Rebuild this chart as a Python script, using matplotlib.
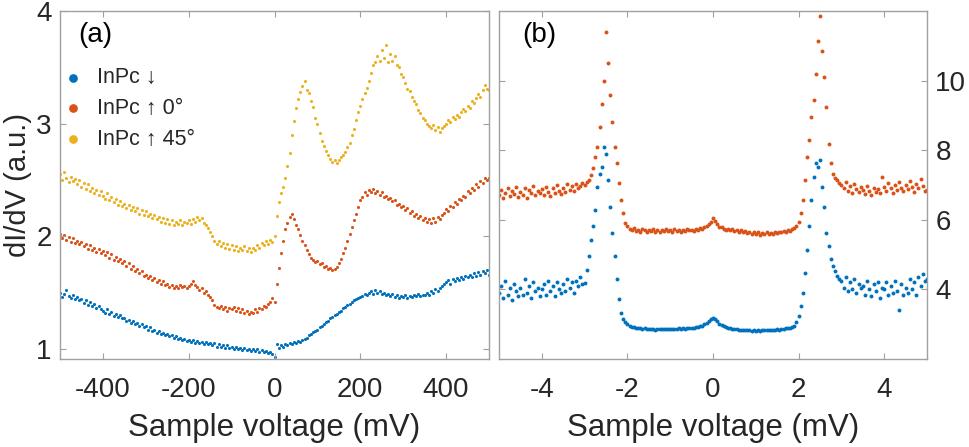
import numpy as np
import matplotlib
matplotlib.use('Agg')
import matplotlib.pyplot as plt

FONT = ['Liberation Sans', 'DejaVu Sans']
plt.rcParams['font.family'] = FONT
plt.rcParams['axes.unicode_minus'] = False

C_DOWN = '#0072BD'
C_UP0 = '#D95319'
C_UP45 = '#EDB120'
FRAME = '#a0a0a0'
TXT = '#262626'

# panel (a): bias -500..500 mV, 5 mV steps
yellow_a = [
    2.55, 2.50, 2.57, 2.52, 2.48, 2.53, 2.49, 2.51, 2.46, 2.50,
    2.44, 2.47, 2.42, 2.46, 2.40, 2.43, 2.38, 2.41, 2.37, 2.40,
    2.36, 2.33, 2.38, 2.32, 2.35, 2.30, 2.33, 2.28, 2.31, 2.27,
    2.29, 2.25, 2.28, 2.23, 2.26, 2.22, 2.25, 2.20, 2.23, 2.19,
    2.22, 2.18, 2.20, 2.16, 2.19, 2.15, 2.17, 2.13, 2.16, 2.12,
    2.15, 2.11, 2.14, 2.10, 2.13, 2.11, 2.14, 2.10, 2.13, 2.12,
    2.14, 2.11, 2.15, 2.13, 2.17, 2.14, 2.16, 2.12, 2.10, 2.07,
    2.04, 2.00, 1.96, 1.93, 1.96, 1.91, 1.94, 1.90, 1.93, 1.89,
    1.92, 1.88, 1.91, 1.87, 1.90, 1.88, 1.91, 1.87, 1.90, 1.86,
    1.90, 1.88, 1.92, 1.90, 1.94, 1.92, 1.96, 1.93, 1.97, 1.95,
    2.00, 2.18, 2.30, 2.38, 2.44, 2.52, 2.62, 2.74, 2.90, 3.02,
    3.14, 3.22, 3.28, 3.33, 3.38, 3.30, 3.27, 3.20, 3.15, 3.05,
    3.00, 2.92, 2.85, 2.80, 2.76, 2.72, 2.69, 2.66, 2.68, 2.65,
    2.68, 2.70, 2.72, 2.75, 2.79, 2.83, 2.90, 2.95, 3.03, 3.10,
    3.16, 3.22, 3.27, 3.32, 3.38, 3.45, 3.52, 3.55, 3.60, 3.56,
    3.65, 3.58, 3.70, 3.55, 3.62, 3.56, 3.60, 3.52, 3.50, 3.44,
    3.41, 3.36, 3.31, 3.29, 3.24, 3.20, 3.17, 3.12, 3.09, 3.05,
    3.03, 3.00, 2.98, 2.96, 2.99, 2.94, 2.97, 2.93, 2.96, 2.98,
    3.00, 3.03, 3.01, 3.06, 3.04, 3.08, 3.06, 3.10, 3.13, 3.11,
    3.16, 3.14, 3.20, 3.18, 3.23, 3.26, 3.24, 3.30, 3.34, 3.31,
    3.30,
]
orange_a = [
    2.02, 1.98, 2.01, 1.97, 1.99, 1.95, 1.98, 1.94, 1.96, 1.93,
    1.95, 1.91, 1.93, 1.89, 1.92, 1.88, 1.90, 1.86, 1.89, 1.85,
    1.87, 1.83, 1.86, 1.81, 1.84, 1.79, 1.82, 1.78, 1.80, 1.76,
    1.78, 1.74, 1.76, 1.71, 1.74, 1.69, 1.71, 1.67, 1.69, 1.65,
    1.66, 1.63, 1.65, 1.61, 1.63, 1.59, 1.61, 1.58, 1.60, 1.57,
    1.58, 1.55, 1.57, 1.54, 1.56, 1.54, 1.57, 1.55, 1.56, 1.54,
    1.56, 1.58, 1.60, 1.57, 1.55, 1.52, 1.54, 1.50, 1.51, 1.48,
    1.46, 1.43, 1.39, 1.37, 1.36, 1.38, 1.35, 1.37, 1.34, 1.36,
    1.35, 1.37, 1.34, 1.36, 1.33, 1.35, 1.32, 1.34, 1.31, 1.33,
    1.32, 1.35, 1.33, 1.36, 1.35, 1.38, 1.37, 1.40, 1.42, 1.45,
    1.42, 1.58, 1.72, 1.85, 1.96, 2.06, 2.12, 2.17, 2.20, 2.15,
    2.10, 2.06, 2.01, 1.96, 1.92, 1.88, 1.84, 1.81, 1.79, 1.77,
    1.78, 1.75, 1.76, 1.73, 1.74, 1.71, 1.72, 1.70, 1.71, 1.73,
    1.76, 1.80, 1.85, 1.90, 1.96, 2.02, 2.08, 2.14, 2.20, 2.26,
    2.32, 2.35, 2.39, 2.37, 2.41, 2.39, 2.42, 2.38, 2.40, 2.37,
    2.39, 2.35, 2.36, 2.33, 2.34, 2.31, 2.32, 2.28, 2.29, 2.26,
    2.27, 2.23, 2.25, 2.21, 2.22, 2.18, 2.20, 2.16, 2.18, 2.14,
    2.16, 2.13, 2.15, 2.12, 2.16, 2.13, 2.17, 2.15, 2.19, 2.21,
    2.24, 2.22, 2.27, 2.26, 2.30, 2.29, 2.33, 2.32, 2.36, 2.35,
    2.40, 2.38, 2.43, 2.41, 2.46, 2.44, 2.49, 2.47, 2.52, 2.50,
    2.52,
]
blue_a = [
    1.50, 1.46, 1.49, 1.52, 1.47, 1.45, 1.48, 1.44, 1.46, 1.43,
    1.44, 1.41, 1.43, 1.39, 1.42, 1.38, 1.40, 1.36, 1.38, 1.35,
    1.34, 1.32, 1.35, 1.31, 1.33, 1.29, 1.31, 1.28, 1.30, 1.27,
    1.27, 1.25, 1.26, 1.23, 1.25, 1.22, 1.23, 1.20, 1.22, 1.19,
    1.20, 1.17, 1.19, 1.16, 1.17, 1.14, 1.16, 1.13, 1.14, 1.12,
    1.13, 1.11, 1.12, 1.10, 1.11, 1.09, 1.10, 1.08, 1.09, 1.07,
    1.08, 1.06, 1.08, 1.05, 1.07, 1.05, 1.06, 1.04, 1.06, 1.04,
    1.05, 1.03, 1.05, 1.02, 1.04, 1.02, 1.03, 1.01, 1.03, 1.01,
    1.02, 1.00, 1.02, 1.00, 1.01, 0.99, 1.01, 0.99, 1.00, 0.98,
    1.00, 0.98, 1.00, 0.97, 0.99, 0.97, 0.98, 0.96, 0.97, 0.95,
    0.93, 1.04, 1.01, 1.03, 1.02, 1.04, 1.03, 1.05, 1.04, 1.06,
    1.05, 1.07, 1.06, 1.08, 1.09, 1.10, 1.12, 1.13, 1.15, 1.16,
    1.17, 1.19, 1.20, 1.22, 1.24, 1.25, 1.27, 1.28, 1.30, 1.31,
    1.33, 1.34, 1.36, 1.37, 1.39, 1.40, 1.42, 1.43, 1.44, 1.45,
    1.46, 1.47, 1.49, 1.48, 1.50, 1.51, 1.49, 1.52, 1.50, 1.51,
    1.49, 1.50, 1.48, 1.49, 1.47, 1.49, 1.46, 1.48, 1.45, 1.47,
    1.46, 1.48, 1.45, 1.47, 1.46, 1.48, 1.47, 1.49, 1.47, 1.48,
    1.48, 1.50, 1.48, 1.51, 1.50, 1.53, 1.51, 1.54, 1.56, 1.58,
    1.59, 1.61, 1.58, 1.62, 1.60, 1.63, 1.61, 1.64, 1.62, 1.65,
    1.64, 1.66, 1.64, 1.67, 1.65, 1.68, 1.66, 1.69, 1.67, 1.70,
    1.66,
]

# panel (b): bias -5..5 mV, 0.05 mV steps
orange_b = [
    6.70, 6.85, 6.62, 6.78, 6.90, 6.68, 6.82, 6.74, 6.95, 6.66,
    6.80, 6.72, 6.92, 6.64, 6.86, 6.76, 6.98, 6.70, 6.84, 6.78,
    6.88, 6.72, 6.94, 6.80, 6.68, 6.90, 6.76, 7.00, 6.82, 6.74,
    6.92, 6.80, 7.02, 6.86, 6.96, 6.84, 7.04, 6.90, 6.98, 7.06,
    7.00, 7.08, 7.14, 7.30, 7.50, 7.80, 8.10, 8.67, 9.33, 10.00,
    11.40, 10.50, 9.60, 8.80, 8.10, 7.62, 7.05, 6.57, 6.19, 5.90,
    5.81, 5.74, 5.70, 5.76, 5.68, 5.72, 5.66, 5.74, 5.70, 5.65,
    5.72, 5.68, 5.74, 5.66, 5.70, 5.64, 5.72, 5.68, 5.75, 5.67,
    5.70, 5.66, 5.73, 5.68, 5.71, 5.65, 5.72, 5.69, 5.74, 5.70,
    5.72, 5.68, 5.74, 5.71, 5.76, 5.74, 5.80, 5.82, 5.88, 5.94,
    6.05, 5.96, 5.88, 5.80, 5.78, 5.74, 5.72, 5.75, 5.70, 5.73,
    5.68, 5.72, 5.66, 5.70, 5.64, 5.68, 5.62, 5.66, 5.60, 5.64,
    5.58, 5.64, 5.56, 5.62, 5.60, 5.65, 5.58, 5.63, 5.60, 5.66,
    5.62, 5.66, 5.64, 5.68, 5.66, 5.70, 5.69, 5.73, 5.76, 5.81,
    5.95, 6.19, 6.57, 7.14, 7.80, 8.29, 8.95, 9.43, 10.20, 11.14,
    11.86, 10.86, 10.10, 9.24, 8.19, 7.62, 7.33, 7.20, 7.14, 7.05,
    7.00, 6.90, 7.08, 6.84, 6.96, 6.78, 7.02, 6.88, 6.80, 6.94,
    6.86, 6.74, 6.98, 6.82, 6.70, 6.92, 6.80, 6.88, 6.76, 7.24,
    6.95, 6.84, 7.06, 6.90, 6.78, 7.00, 6.86, 7.10, 6.92, 6.82,
    7.00, 6.88, 7.12, 6.94, 6.80, 7.04, 6.90, 7.16, 6.96, 6.84,
    6.86,
]
blue_b = [
    3.90, 4.10, 3.75, 4.25, 3.85, 4.05, 3.70, 4.15, 3.95, 3.80,
    4.05, 3.85, 4.30, 3.90, 4.10, 3.75, 4.20, 3.95, 4.05, 3.80,
    4.00, 4.15, 3.85, 4.25, 3.95, 4.10, 3.80, 4.20, 4.00, 3.90,
    4.15, 3.95, 4.30, 4.05, 4.20, 3.90, 4.25, 4.10, 4.35, 4.15,
    4.19, 4.57, 4.95, 5.43, 5.81, 6.29, 6.95, 7.33, 7.52, 8.10,
    7.90, 7.14, 6.38, 5.62, 4.95, 4.29, 3.71, 3.33, 3.14, 3.05,
    3.00, 2.96, 2.93, 2.91, 2.90, 2.88, 2.89, 2.87, 2.88, 2.86,
    2.87, 2.85, 2.86, 2.84, 2.86, 2.85, 2.87, 2.85, 2.86, 2.85,
    2.86, 2.85, 2.87, 2.86, 2.88, 2.86, 2.88, 2.87, 2.89, 2.88,
    2.90, 2.89, 2.92, 2.91, 2.95, 2.96, 3.00, 3.04, 3.10, 3.15,
    3.19, 3.14, 3.08, 3.02, 2.98, 2.94, 2.92, 2.90, 2.89, 2.87,
    2.86, 2.85, 2.84, 2.84, 2.83, 2.83, 2.82, 2.83, 2.81, 2.82,
    2.81, 2.82, 2.81, 2.83, 2.82, 2.83, 2.82, 2.84, 2.83, 2.84,
    2.85, 2.84, 2.86, 2.86, 2.88, 2.88, 2.90, 2.92, 2.96, 3.05,
    3.24, 3.52, 3.90, 4.48, 5.14, 5.81, 6.57, 7.24, 7.62, 7.52,
    7.71, 6.95, 6.38, 5.62, 5.24, 4.86, 4.67, 4.52, 4.38, 4.30,
    4.24, 4.05, 4.35, 3.95, 4.20, 4.00, 4.30, 3.90, 4.15, 4.05,
    4.10, 3.85, 4.25, 4.00, 3.80, 4.15, 3.95, 4.20, 3.75, 4.05,
    4.00, 4.20, 3.85, 4.10, 3.90, 4.25, 3.95, 3.40, 4.15, 3.85,
    4.05, 3.90, 4.30, 4.00, 4.20, 3.85, 4.35, 4.10, 4.45, 4.25,
    4.29,
]

v_a = np.linspace(-500, 500, len(blue_a))
v_b = np.linspace(-5, 5, len(blue_b))


def style_axes(ax):
    for sp in ax.spines.values():
        sp.set_color(FRAME)
        sp.set_linewidth(1.0)
    ax.tick_params(direction='in', length=4, width=0.8, color=FRAME,
                   labelcolor=TXT, labelsize=20, top=True, right=True)
    ax.tick_params(axis='x', pad=13)
    ax.tick_params(axis='y', pad=6)


fig = plt.figure(figsize=(9.69, 4.47), dpi=100)
ax1 = fig.add_axes([60 / 969, 88 / 447, 429 / 969, 348 / 447])
ax2 = fig.add_axes([499 / 969, 88 / 447, 428 / 969, 348 / 447])

ax1.scatter(v_a, blue_a, s=5, color=C_DOWN, lw=0, label='InPc ↓')
ax1.scatter(v_a, orange_a, s=5, color=C_UP0, lw=0, label='InPc ↑ 0°')
ax1.scatter(v_a, yellow_a, s=5, color=C_UP45, lw=0, label='InPc ↑ 45°')
ax1.set_xlim(-500, 500)
ax1.set_ylim(0.91, 4.0)
ax1.set_xticks([-400, -200, 0, 200, 400])
ax1.set_yticks([1, 2, 3, 4])
style_axes(ax1)
ax1.set_xlabel('Sample voltage (mV)', fontsize=22.5, color=TXT, labelpad=7)
ax1.set_ylabel('dI/dV (a.u.)', fontsize=21, color=TXT, labelpad=3)
ax1.text(0.042, 0.93, '(a)', transform=ax1.transAxes, fontsize=20,
         va='center', ha='left')
leg = ax1.legend(loc='upper left', bbox_to_anchor=(-0.04, 0.875),
                 frameon=False, fontsize=15.5, markerscale=2.8,
                 handletextpad=0.3, handlelength=1.6,
                 labelspacing=0.45, borderaxespad=0.2)
for t in leg.get_texts():
    t.set_color(TXT)
    t.set_fontfamily(FONT)

ax2.scatter(v_b, blue_b, s=8, color=C_DOWN, lw=0)
ax2.scatter(v_b, orange_b, s=8, color=C_UP0, lw=0)
ax2.set_xlim(-5, 5)
ax2.set_ylim(2, 12)
ax2.set_xticks([-4, -2, 0, 2, 4])
ax2.set_yticks([4, 6, 8, 10])
style_axes(ax2)
ax2.tick_params(labelleft=False, labelright=True)
ax2.set_xlabel('Sample voltage (mV)', fontsize=22.5, color=TXT, labelpad=7)
ax2.text(0.054, 0.93, '(b)', transform=ax2.transAxes, fontsize=20,
         va='center', ha='left')

fig.savefig('out.png', dpi=100)
